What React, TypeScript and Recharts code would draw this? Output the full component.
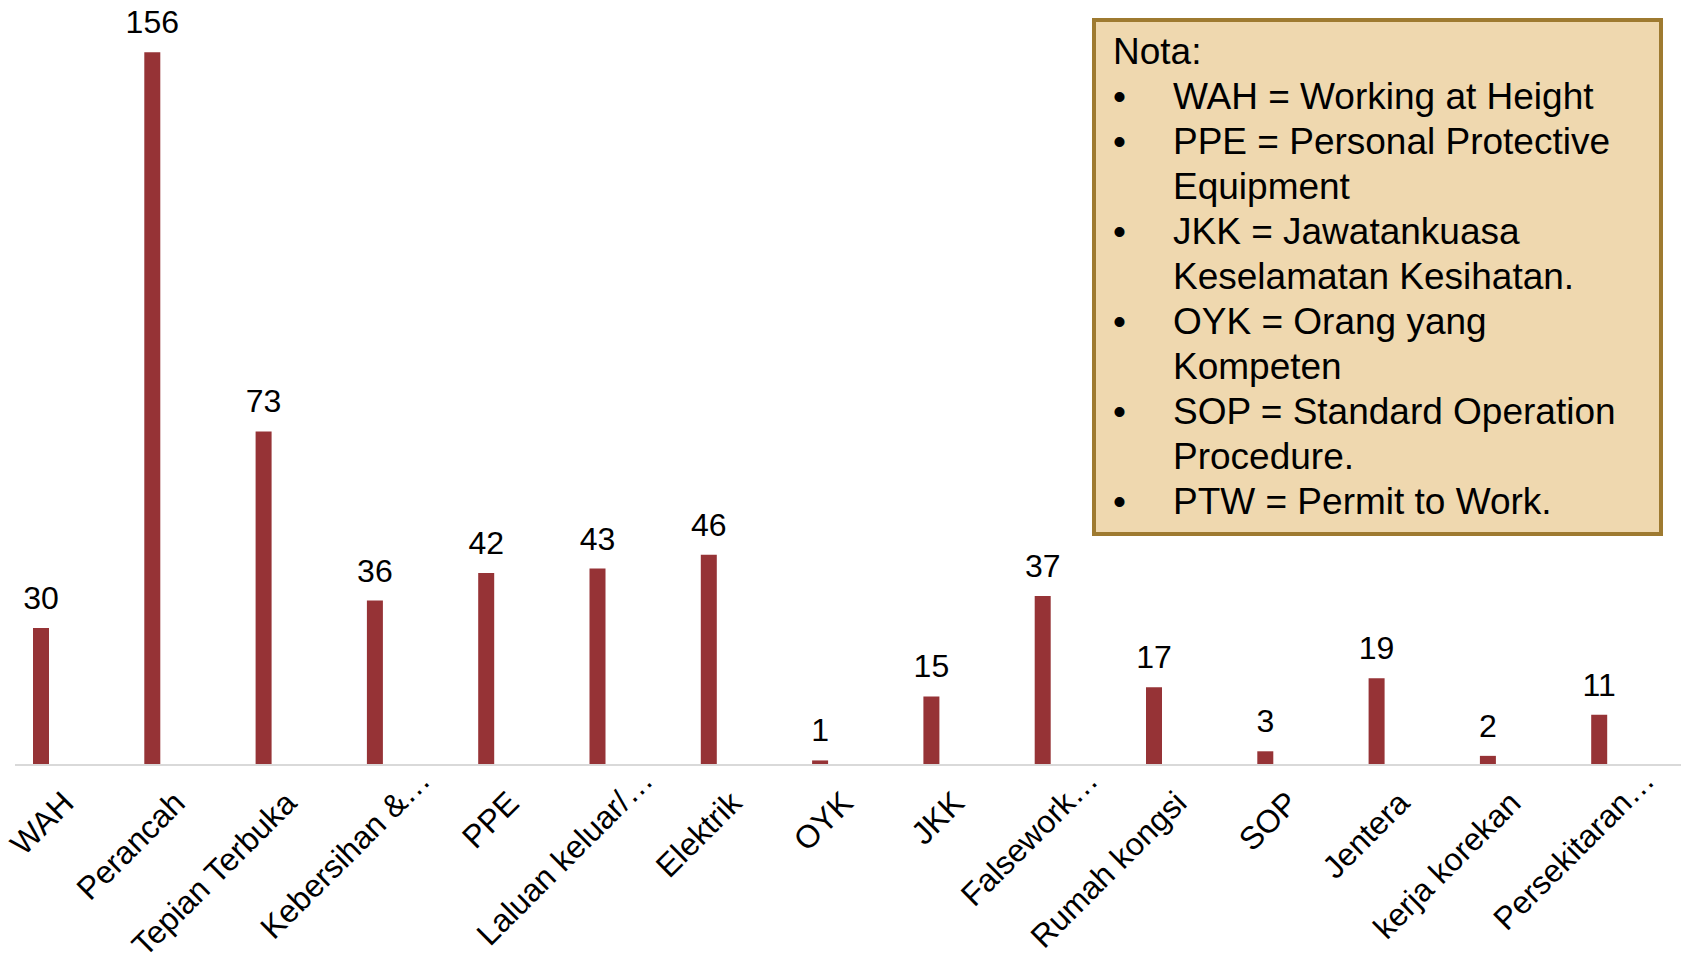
import React from 'react';
import { BarChart, Bar, XAxis, YAxis, LabelList } from 'recharts';

const categories = [
  'WAH',
  'Perancah',
  'Tepian Terbuka',
  'Kebersihan &…',
  'PPE',
  'Laluan keluar/…',
  'Elektrik',
  'OYK',
  'JKK',
  'Falsework…',
  'Rumah kongsi',
  'SOP',
  'Jentera',
  'kerja korekan',
  'Persekitaran…',
];

const counts = [30, 156, 73, 36, 42, 43, 46, 1, 15, 37, 17, 3, 19, 2, 11];

const noteTitle = 'Nota:';
const notes = [
  ['WAH = Working at Height'],
  ['PPE = Personal Protective', 'Equipment'],
  ['JKK = Jawatankuasa', 'Keselamatan Kesihatan.'],
  ['OYK = Orang yang', 'Kompeten'],
  ['SOP = Standard Operation', 'Procedure.'],
  ['PTW = Permit to Work.'],
];

const FONT = '"Liberation Sans", Arial, sans-serif';
const BAR_COLOR = '#963336';

const data = categories.map((name, i) => ({ name, value: counts[i] }));

// Excel-style rotated label: text ends at the anchor, a trailing "…" overflows past it
const AngledTick = (props: any) => {
  const { x, y, payload } = props;
  const label: string = String(payload.value);
  const cut = label.endsWith('…');
  const main = cut ? label.slice(0, -1) : label;
  return (
    <g transform={`translate(${x + 35},${y + 40}) rotate(-45)`}>
      <text x={0} y={0} textAnchor="end" fontSize={32} fontFamily={FONT} fill="#000">
        {main}
      </text>
      {cut && (
        <text x={0} y={0} textAnchor="start" fontSize={32} fontFamily={FONT} fill="#000">
          …
        </text>
      )}
    </g>
  );
};

const ValueLabel = (props: any) => {
  const { x, y, width, value } = props;
  return (
    <text
      x={Number(x) + Number(width) / 2}
      y={Number(y) - 19}
      textAnchor="middle"
      fontSize={32}
      fontFamily={FONT}
      fill="#000"
    >
      {value}
    </text>
  );
};

const NoteBox = () => (
  <div
    style={{
      position: 'absolute',
      left: 1092,
      top: 18,
      width: 571,
      height: 518,
      boxSizing: 'border-box',
      border: '4px solid #9e7a30',
      background: '#efd8af',
      padding: '7px 0 0 17px',
      fontFamily: FONT,
      fontSize: 37,
      lineHeight: '45px',
      color: '#000',
      whiteSpace: 'nowrap',
    }}
  >
    <div>{noteTitle}</div>
    {notes.map((lines, i) => (
      <div key={i} style={{ display: 'flex' }}>
        <div style={{ width: 60, flexShrink: 0 }}>•</div>
        <div>
          {lines.map((line, j) => (
            <div key={j}>{line}</div>
          ))}
        </div>
      </div>
    ))}
  </div>
);

export default function App() {
  return (
    <div
      style={{
        position: 'absolute',
        left: 0,
        top: 0,
        width: 1681,
        height: 959,
        overflow: 'hidden',
        background: '#fff',
      }}
    >
      <BarChart
        width={1681}
        height={959}
        data={data}
        margin={{ top: 34, right: 0, bottom: 0, left: 15 }}
      >
        <XAxis
          dataKey="name"
          height={194}
          interval={0}
          padding={{ left: -30, right: 26.5 }}
          axisLine={{ stroke: '#d9d9d9', strokeWidth: 2 }}
          tickLine={false}
          tickSize={0}
          tickMargin={0}
          tick={<AngledTick />}
        />
        <YAxis hide domain={[0, 160]} />
        <Bar dataKey="value" fill={BAR_COLOR} barSize={16} isAnimationActive={false}>
          <LabelList dataKey="value" content={<ValueLabel />} />
        </Bar>
      </BarChart>
      <NoteBox />
    </div>
  );
}
